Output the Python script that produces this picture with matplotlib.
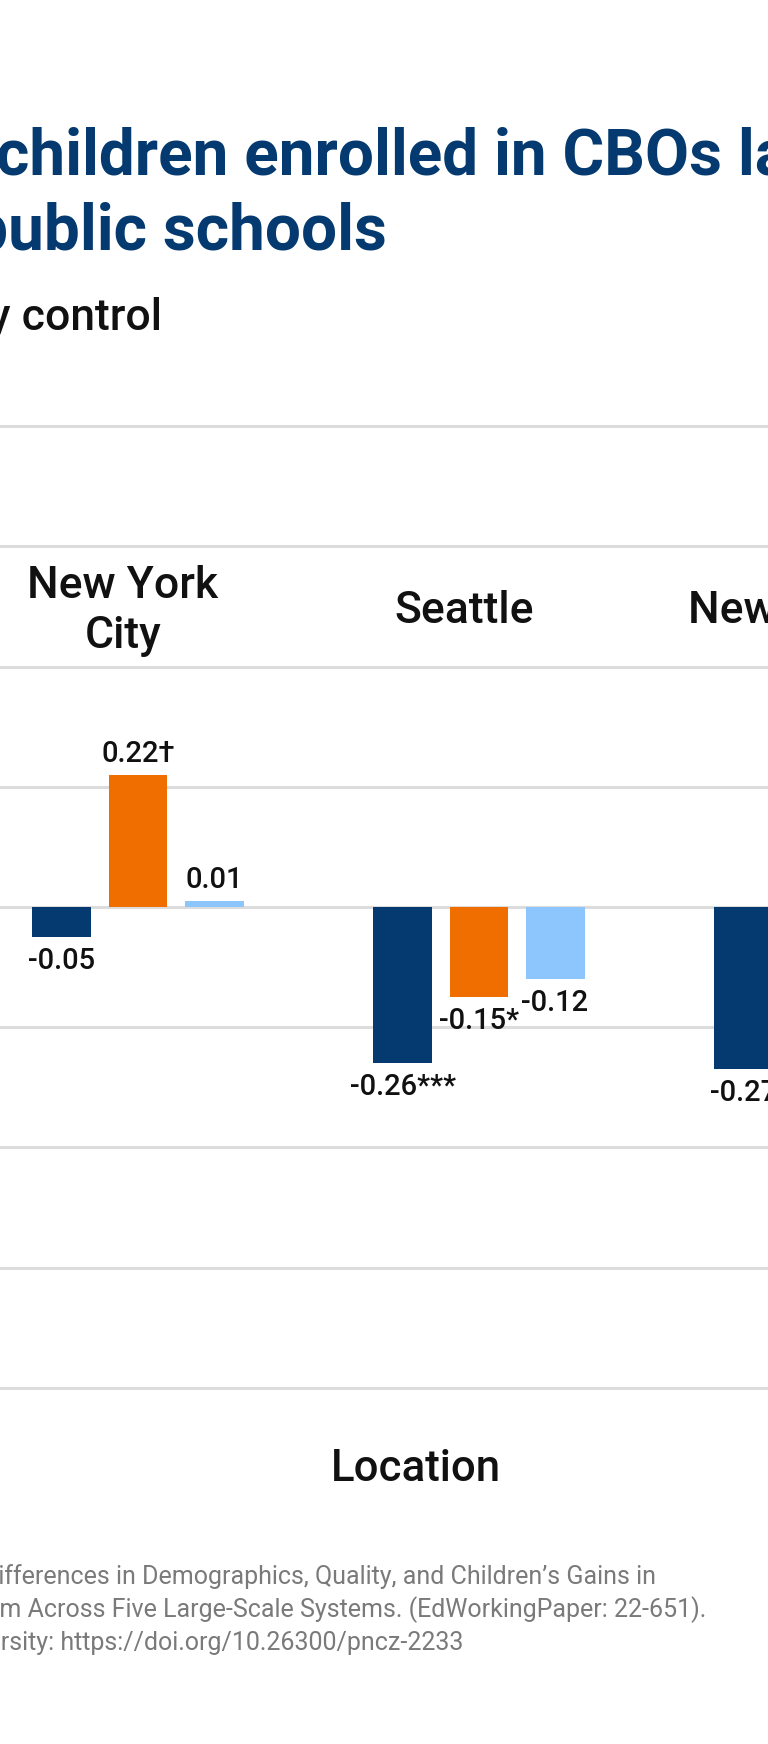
import numpy as np
import matplotlib
matplotlib.use("Agg")
import matplotlib.pyplot as plt

plt.rcParams['font.family'] = ['Roboto', 'DejaVu Sans']

# data (the third group is mostly cut off at the right edge)
locations = ['New York\nCity', 'Seattle', 'New Jersey']
navy_vals = [-0.05, -0.26, -0.27]
orange_vals = [0.22, -0.15, np.nan]
light_vals = [0.01, -0.12, np.nan]
navy_labels = ['-0.05', '-0.26***', '-0.27']
orange_labels = ['0.22\u2020', '-0.15*', '']
light_labels = ['0.01', '-0.12', '']
grid_vals = [-0.8, -0.6, -0.4, -0.2, 0.0, 0.2, 0.4, 0.6, 0.8]

NAVY = '#043a6f'
ORANGE = '#f06d00'
LIGHT = '#8cc6fd'
W, H = 768, 1744

fig = plt.figure(figsize=(W / 100, H / 100), dpi=100)
ax = fig.add_axes([0, (H - 1418) / H, 1, (1418 - 396) / H])
ax.set_ylim(-0.85, 0.85)
ax.set_xlim(-0.4047, -0.4047 + W / 341)
ax.axis('off')

for g in grid_vals:
    ax.axhline(g, color='#dcdcdc', lw=2.2, zorder=0)

x = np.arange(len(locations))
step = 0.2229
bw = 0.173
series = [(navy_vals, navy_labels, NAVY, -step),
          (orange_vals, orange_labels, ORANGE, 0.0),
          (light_vals, light_labels, LIGHT, step)]

for vals, labs, col, off in series:
    for xi, v, lab in zip(x, vals, labs):
        if np.isnan(v):
            continue
        ax.bar(xi + off, v, width=bw, color=col, zorder=2)
        if v >= 0:
            ax.annotate(lab, (xi + off, v), xytext=(0, 5), textcoords='offset points',
                        ha='center', va='bottom', fontsize=21, fontweight='medium', color='#111111')
        else:
            ax.annotate(lab, (xi + off, v), xytext=(0, -7), textcoords='offset points',
                        ha='center', va='top', fontsize=21, fontweight='medium', color='#111111')

# location names sit in the band between the 0.4 and 0.6 gridlines
for xi, name in zip(x, locations):
    ax.text(xi - 0.045, 0.492, name, ha='center', va='center', fontsize=32,
            fontweight='medium', linespacing=1.25, color='#111111')

# titles (cut at the left/right edges as in the reference)
fig.text(-4 / W, 1 - 175 / H, 'children enrolled in CBOs larger than those in',
         ha='left', va='baseline', fontsize=46, fontweight='bold', color=NAVY)
fig.text(387 / W, 1 - 250 / H, 'those in public schools',
         ha='right', va='baseline', fontsize=46, fontweight='bold', color=NAVY)
fig.text(162 / W, 1 - 330 / H, 'Effect sizes by control',
         ha='right', va='baseline', fontsize=32, fontweight='medium', color='#111111')

fig.text(416 / W, 1 - 1481 / H, 'Location', ha='center', va='baseline',
         fontsize=31.5, fontweight='medium', color='#111111')

source_lines = [
    'Source: Bassok et al. (2022). Differences in Demographics, Quality, and Children\u2019s Gains in',
    'Public Pre-K: Evidence from Across Five Large-Scale Systems. (EdWorkingPaper: 22-651).',
    'Retrieved from Annenberg Institute at Brown University: https://doi.org/10.26300/pncz-2233',
]
source_right = [656, 706, 463]
source_base = [1584, 1617, 1650]
for line, xr, yb in zip(source_lines, source_right, source_base):
    fig.text(xr / W, 1 - yb / H, line, ha='right', va='baseline', fontsize=18,
             fontweight='normal', color='#7a7a7a')

fig.savefig('out.png', dpi=100)
